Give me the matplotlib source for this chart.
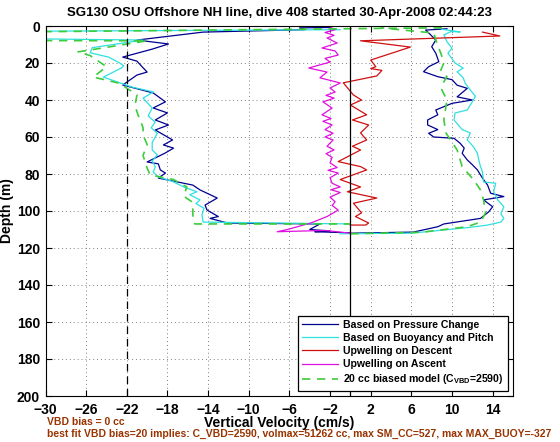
import numpy as np
import matplotlib
matplotlib.use('Agg')
import matplotlib.pyplot as plt

plt.rcParams['font.family'] = 'Liberation Sans'
plt.rcParams['font.weight'] = 'bold'

# Pressure change based velocity, descent (cm/s, m)
pc_dn_w = [-2.0, -5.0, -4.5, -14.5, -21.0, -17.9, -19.5, -22.4, -21.0, -20.5, -20.0, -21.0, -22.4, -19.4,
           -18.2, -19.4, -18.0, -19.2, -17.9, -19.2, -17.5, -18.4, -17.4, -18.2, -20.0, -18.9, -18.7, -18.2,
           -18.9, -15.5, -14.8, -13.1, -14.3, -14.1, -13.0, -13.8, -12.1, -3.0, -4.0, -2.0, -3.5, 0.0]
pc_dn_z = [0.8, 1.0, 2.0, 3.3, 7.6, 9.7, 12.5, 16.8, 19.0, 22.0, 24.9, 26.5, 31.9, 36.2,
           41.0, 44.3, 47.0, 50.8, 53.5, 56.2, 61.6, 64.3, 66.0, 68.6, 73.5, 74.5, 77.8, 79.5,
           82.2, 86.0, 88.6, 93.0, 96.8, 99.5, 103.0, 104.0, 106.5, 107.0, 110.0, 110.8, 111.2, 111.8]

# Pressure change based velocity, ascent
pc_up_w = [0.0, 6.2, 8.6, 9.2, 12.8, 13.6, 14.0, 13.1, 15.1, 13.8, 13.5, 13.1, 12.8, 12.5, 12.0, 11.5,
           11.0, 11.2, 10.8, 10.2, 8.2, 7.7, 8.6, 7.6, 7.6, 8.6, 8.4, 10.0, 12.0, 10.5, 11.5, 10.5,
           10.0, 8.6, 7.2, 7.7, 8.7, 8.4, 8.0, 8.4, 7.9, 7.4, 9.5]
pc_up_z = [112.0, 111.4, 108.5, 107.0, 104.0, 100.5, 97.7, 94.0, 92.2, 90.4, 86.0, 83.0, 80.5, 77.8, 75.0, 72.4,
           68.8, 66.0, 63.4, 60.7, 60.0, 58.0, 56.0, 53.5, 50.8, 48.0, 45.4, 41.8, 40.0, 38.3, 33.7, 32.0,
           29.0, 27.4, 24.7, 22.0, 19.3, 14.7, 11.2, 7.6, 4.8, 2.2, 1.5]

# Buoyancy and pitch based velocity
bp_dn_w = [-1.0, -38.0, -38.0, -38.0, -20.4, -25.4, -25.6, -23.8, -22.7, -22.3, -22.5, -24.3, -22.9, -21.5,
           -19.4, -20.4, -19.5, -19.9, -19.2, -19.6, -19.0, -19.5, -19.5, -19.0, -19.5, -19.2, -19.4, -18.9,
           -17.5, -16.4, -15.1, -15.8, -14.8, -15.2, -14.4, -14.6, -14.5, 0.0]
bp_dn_z = [2.0, 3.0, 4.8, 6.5, 7.6, 11.7, 14.5, 16.8, 20.0, 21.5, 22.6, 27.6, 30.3, 33.0,
           35.6, 39.0, 44.3, 48.6, 52.0, 55.0, 58.0, 63.0, 67.0, 69.7, 73.0, 76.0, 79.0, 81.6,
           84.0, 87.0, 89.6, 91.2, 94.0, 96.0, 98.5, 102.0, 106.0, 107.0]
bp_up_w = [-1.0, 6.0, 11.5, 13.5, 14.8, 15.1, 14.8, 15.1, 14.5, 14.1, 14.3, 13.1, 13.0, 12.8, 12.6, 12.5,
           12.1, 11.5, 11.8, 11.0, 10.2, 10.3, 11.5, 12.1, 12.3, 11.8, 11.3, 11.1, 10.5, 11.1, 10.3, 9.6,
           10.0, 9.5, 9.2, 9.9, 10.8, 9.0]
bp_up_z = [112.3, 112.0, 109.0, 107.6, 106.0, 104.0, 101.5, 97.7, 94.0, 89.6, 85.0, 84.3, 78.8, 76.0, 71.6, 68.8,
           65.2, 61.6, 57.8, 56.0, 50.8, 47.0, 45.4, 40.0, 38.0, 34.6, 31.0, 28.0, 24.7, 22.8, 20.0, 14.7,
           12.0, 8.5, 4.8, 3.0, 3.2, 1.8]

# 20 cc biased model
md_dn_w = [9.0, -1.0, -38.0, -38.0, -20.0, -26.8, -25.6, -24.0, -25.3, -22.7, -21.0, -21.2, -20.9, -20.4,
           -20.4, -20.0, -20.4, -20.0, -19.7, -17.4, -16.1, -16.4, -15.6, -15.5, -15.5, -15.3, 0.0]
md_dn_z = [1.0, 1.5, 3.5, 7.8, 8.0, 14.0, 16.0, 22.0, 27.6, 31.0, 37.3, 43.0, 48.0, 55.0,
           59.0, 64.0, 70.0, 76.8, 80.5, 83.0, 87.0, 92.0, 95.0, 99.5, 105.0, 107.0, 107.0]
md_up_w = [0.0, 7.0, 11.5, 12.8, 13.3, 13.1, 12.8, 12.1, 11.0, 10.5, 9.4, 9.2, 9.5, 9.0, 9.1, 9.5,
           8.9, 9.2, 8.9, 8.5, 8.2, 3.0]
md_up_z = [112.3, 111.5, 108.5, 106.0, 101.0, 94.0, 88.6, 83.0, 76.0, 67.0, 57.8, 50.8, 40.0, 34.6, 31.0, 27.4,
           23.8, 20.0, 14.7, 9.3, 3.8, 1.0]

# upwelling on descent
uw_dn_w = [13.0, 14.7, 1.0, 5.9, 2.0, 2.5, 2.0, 3.1, 2.6, -0.7, 0.3, 1.1, 0.0, 1.6, 0.2, 1.8, 1.0, 1.6,
           0.2, 1.0, -1.2, 1.0, 1.6, -1.0, 1.0, -0.3, 2.6, 0.3, 1.1, 0.5, 1.8, 1.5, 0.0]
uw_dn_z = [3.3, 5.4, 8.0, 11.4, 18.4, 22.0, 23.0, 24.0, 27.0, 30.7, 37.3, 40.0, 42.7, 48.0, 50.8, 53.5, 57.8, 61.6,
           65.0, 67.0, 73.3, 76.0, 77.8, 83.0, 87.0, 89.6, 93.0, 95.8, 101.0, 103.0, 106.5, 107.6, 107.6]

# upwelling on ascent
uw_up_w = [-2.0, -1.5, -2.5, -1.6, -2.3, -1.3, -2.8, -1.5, -1.2, -2.5, -2.0, -4.1, -2.3, -3.0, -1.0, -2.0,
           -1.5, -2.4, -1.6, -2.7, -1.8, -2.8, -1.9, -2.7, -1.8, -2.5, -1.7, -2.5, -1.7, -2.3, -1.6, -2.4,
           -1.8, -2.0, -1.3, -2.2, -1.2, -2.0, -1.8, -1.0, -1.9, -1.0, -2.0, -1.5, -1.8, -1.2, -2.3, -3.9,
           -6.2, -7.2, -2.5, 0.0]
uw_up_z = [0.5, 2.0, 3.5, 5.0, 6.5, 9.2, 11.9, 13.5, 15.7, 17.5, 19.5, 22.7, 24.9, 28.0, 30.8, 33.5,
           35.7, 37.5, 39.0, 41.0, 44.4, 48.0, 50.0, 51.5, 53.5, 56.0, 58.0, 60.0, 61.6, 65.0, 67.0, 69.0,
           71.0, 74.0, 76.5, 78.0, 79.5, 82.0, 85.0, 87.0, 88.5, 90.0, 92.5, 95.0, 97.0, 99.5, 103.0, 106.5,
           110.0, 111.2, 110.5, 112.0]

labels = ['Based on Pressure Change', 'Based on Buoyancy and Pitch', 'Upwelling on Descent',
          'Upwelling on Ascent', '20 cc biased model (C$_{\\mathregular{VBD}}$=2590)']

navy = '#00008f'
cyan = '#2fe0e0'
red = '#d01010'
mag = '#e010e0'
green = '#3ccc3c'
brown = '#993300'

fig = plt.figure(figsize=(5.6, 4.42), dpi=100)
ax = fig.add_axes([45.5 / 560, 46 / 442, 467.5 / 560, 370 / 442])

ax.plot(pc_dn_w, pc_dn_z, color=navy, lw=0.9, label=labels[0])
ax.plot(pc_up_w, pc_up_z, color=navy, lw=0.9)
ax.plot(bp_dn_w, bp_dn_z, color=cyan, lw=0.9, label=labels[1])
ax.plot(bp_up_w, bp_up_z, color=cyan, lw=0.9)
ax.plot(uw_dn_w, uw_dn_z, color=red, lw=0.9, label=labels[2])
ax.plot(uw_up_w, uw_up_z, color=mag, lw=0.9, label=labels[3])
ax.plot(md_dn_w, md_dn_z, color=green, lw=1.2, ls=(0, (5, 4)), label=labels[4])
ax.plot(md_up_w, md_up_z, color=green, lw=1.2, ls=(0, (5, 4)))

ax.axvline(0, color='k', lw=0.9)
ax.axvline(-22, color='k', lw=0.9, ls=(0, (6, 4)))

ax.set_xlim(-30, 16)
ax.set_ylim(200, 0)
ax.set_xticks(np.arange(-30, 15, 4))
ax.set_yticks(np.arange(0, 201, 20))
ax.grid(True, color='0.5', ls=(0, (1, 3)), lw=0.7)
ax.tick_params(direction='in', top=True, right=True, length=4, labelsize=10)
ax.tick_params(axis='x', pad=5)
ax.tick_params(axis='y', pad=4)
for lab in ax.get_xticklabels() + ax.get_yticklabels():
    lab.set_fontweight('bold')

ax.set_title('SG130 OSU Offshore NH line, dive 408 started 30-Apr-2008 02:44:23',
             fontsize=9.5, fontweight='bold', pad=7)
ax.set_xlabel('Vertical Velocity (cm/s)', fontsize=10, fontweight='bold', labelpad=-1)
ax.set_ylabel('Depth (m)', fontsize=10, fontweight='bold', labelpad=2)

leg = ax.legend(loc='lower right', fontsize=7.6, handlelength=3.4, fancybox=False, framealpha=1,
                edgecolor='k', borderaxespad=0.5, labelspacing=0.3, handletextpad=0.5, borderpad=0.4)
leg.get_frame().set_linewidth(0.9)

fig.text(47 / 560, 1 - 422 / 442, 'VBD bias = 0 cc', color=brown, fontsize=7.5,
         fontweight='bold', va='center')
fig.text(47 / 560, 1 - 434 / 442,
         'best fit VBD bias=20 implies: C_VBD=2590, volmax=51262 cc, max SM_CC=527, max MAX_BUOY=-327',
         color=brown, fontsize=7.5, fontweight='bold', va='center')

fig.savefig('out.png', dpi=100)
